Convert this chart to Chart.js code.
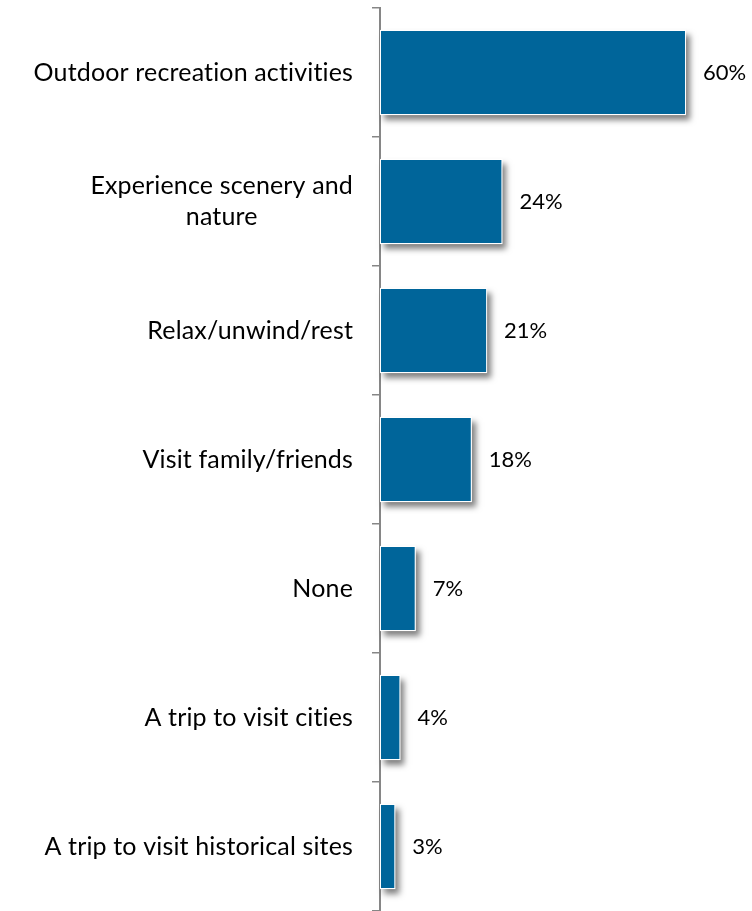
<!DOCTYPE html>
<html>
<head>
<meta charset="utf-8">
<script src="https://cdn.jsdelivr.net/npm/chart.js@4"></script>
<style>
  html, body { margin: 0; padding: 0; background: #ffffff; }
  #wrap { position: relative; width: 752px; height: 911px; }
</style>
</head>
<body>
<div id="wrap"><canvas id="reasonsChart"></canvas></div>
<script>
// categorie e valori (percentuali)
const categories = [
    'Outdoor recreation activities',
    ['Experience scenery and', 'nature'],
    'Relax/unwind/rest',
    'Visit family/friends',
    'None',
    'A trip to visit cities',
    'A trip to visit historical sites'
];
const shares = [60, 24, 21, 18, 7, 4, 3];
const valueLabels = ['60%', '24%', '21%', '18%', '7%', '4%', '3%'];

const barColor = '#00659a';
const fontName = 'Lato, "Open Sans", sans-serif';

// ombra sotto le barre (disegnata prima delle barre, usando le posizioni degli elementi)
const barShadow = {
    id: 'barShadow',
    beforeDatasetsDraw(chart) {
        const ctx = chart.ctx;
        const meta = chart.getDatasetMeta(0);
        ctx.save();
        ctx.fillStyle = '#ffffff';
        ctx.shadowColor = 'rgba(0,0,0,0.5)';
        ctx.shadowBlur = 6;
        ctx.shadowOffsetX = 4;
        ctx.shadowOffsetY = 5;
        meta.data.forEach(bar => {
            const p = bar.getProps(['x', 'y', 'base', 'height'], true);
            ctx.fillRect(p.base, p.y - p.height / 2, p.x - p.base, p.height);
        });
        ctx.restore();
    }
};

// etichette categorie: allineate a destra, righe centrate tra loro
const categoryLabels = {
    id: 'categoryLabels',
    afterDraw(chart) {
        const ctx = chart.ctx;
        const yScale = chart.scales.y;
        const rightEdge = 353;
        const lineH = 31;
        ctx.save();
        ctx.font = '25px ' + fontName;
        ctx.letterSpacing = '0.15px'; // evita le legature di Lato
        ctx.fillStyle = '#000000';
        ctx.textAlign = 'center';
        ctx.textBaseline = 'middle';
        categories.forEach((cat, i) => {
            const lines = Array.isArray(cat) ? cat : [cat];
            const w = Math.max(...lines.map(l => ctx.measureText(l).width));
            const cx = rightEdge - w / 2;
            const cy = yScale.getPixelForValue(i);
            lines.forEach((l, j) => {
                ctx.fillText(l, cx, cy + (j - (lines.length - 1) / 2) * lineH);
            });
        });
        ctx.restore();
    }
};

// etichette valori a destra delle barre
const valueLabelsPlugin = {
    id: 'valueLabels',
    afterDraw(chart) {
        const ctx = chart.ctx;
        const meta = chart.getDatasetMeta(0);
        ctx.save();
        ctx.font = '22px ' + fontName;
        ctx.fillStyle = '#000000';
        ctx.textAlign = 'left';
        ctx.textBaseline = 'middle';
        meta.data.forEach((bar, i) => {
            ctx.fillText(valueLabels[i], bar.x + 17, bar.y);
        });
        ctx.restore();
    }
};

const ctx = document.getElementById('reasonsChart').getContext('2d');
new Chart(ctx, {
    type: 'bar',
    data: {
        labels: categories,
        datasets: [{
            data: shares,
            backgroundColor: barColor,
            borderColor: '#ffffff',
            borderWidth: 1,
            borderSkipped: false,
            barPercentage: 0.66,
            categoryPercentage: 1
        }]
    },
    options: {
        indexAxis: 'y',
        responsive: true,
        maintainAspectRatio: false,
        animation: false,
        layout: { padding: { top: 8, right: 15, bottom: 0, left: 0 } },
        plugins: {
            legend: { display: false },
            tooltip: { enabled: false }
        },
        scales: {
            x: {
                display: false,
                min: 0,
                max: 70
            },
            y: {
                afterFit(scale) { scale.width = 380; },
                grid: {
                    display: true,
                    drawOnChartArea: false,
                    drawTicks: true,
                    tickLength: 8,
                    color: '#868686',
                    lineWidth: 1.5,
                    offset: true
                },
                border: { display: true, color: '#868686', width: 2 },
                ticks: { display: false }
            }
        }
    },
    plugins: [barShadow, categoryLabels, valueLabelsPlugin]
});
</script>
</body>
</html>
